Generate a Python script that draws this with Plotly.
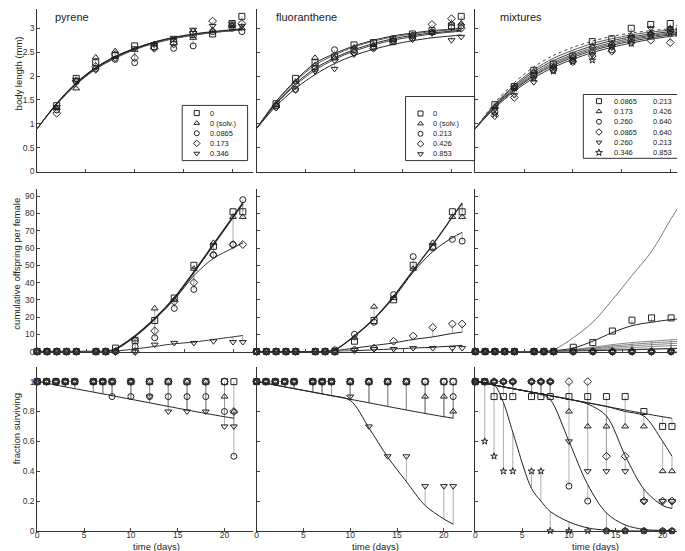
import plotly.graph_objects as go

W, H = 685, 551

# ---------------- data ----------------
T_LEN = [2, 4, 6, 8, 10, 12, 14, 16, 18, 20, 21]            # body-length observation days
T_LEN_MODEL = [0, 2, 4, 6, 8, 10, 12, 14, 16, 18, 20, 21]   # body-length model days
T = [0, 1, 2, 3, 4, 6, 7, 8, 10, 12, 14, 16, 18, 20, 21]     # reproduction / survival days

pyr_labels = ["0", "0 (solv.)", "0.0865", "0.173", "0.346"]
flu_labels = ["0", "0 (solv.)", "0.213", "0.426", "0.853"]
mix_pyr_labels = ["0.0865", "0.173", "0.260", "0.0865", "0.260", "0.346"]
mix_flu_labels = ["0.213", "0.426", "0.640", "0.640", "0.213", "0.853"]

# body length (mm) - pyrene
pyr_len_sq = [1.38, 1.95, 2.28, 2.43, 2.63, 2.62, 2.72, 2.87, 2.88, 3.10, 3.25]
pyr_len_tri = [1.33, 1.74, 2.39, 2.52, 2.55, 2.67, 2.75, 2.80, 2.95, 3.05, 3.00]
pyr_len_circ = [1.29, 1.88, 2.15, 2.35, 2.28, 2.60, 2.58, 2.63, 2.93, 3.00, 2.93]
pyr_len_dia = [1.22, 1.90, 2.20, 2.45, 2.38, 2.58, 2.67, 2.92, 3.15, 3.05, 3.10]
pyr_len_down = [1.35, 1.92, 2.12, 2.36, 2.58, 2.66, 2.80, 2.97, 3.05, 3.10, 3.05]
pyr_len_m_sq = [0.9, 1.43, 1.86, 2.18, 2.41, 2.58, 2.71, 2.80, 2.87, 2.92, 2.96, 2.98]
pyr_len_m_tri = [0.9, 1.42, 1.85, 2.17, 2.40, 2.57, 2.70, 2.79, 2.86, 2.91, 2.95, 2.97]
pyr_len_m_circ = [0.9, 1.40, 1.82, 2.14, 2.37, 2.55, 2.68, 2.78, 2.85, 2.91, 2.95, 2.97]
pyr_len_m_dia = [0.9, 1.41, 1.83, 2.15, 2.38, 2.56, 2.69, 2.79, 2.86, 2.92, 2.96, 2.98]
pyr_len_m_down = [0.9, 1.42, 1.84, 2.16, 2.40, 2.57, 2.71, 2.81, 2.88, 2.93, 2.97, 2.99]

# body length (mm) - fluoranthene
flu_len_sq = [1.42, 1.95, 2.28, 2.40, 2.65, 2.70, 2.72, 2.88, 2.95, 3.05, 3.25]
flu_len_tri = [1.40, 1.88, 2.38, 2.38, 2.60, 2.65, 2.75, 2.85, 2.90, 3.10, 3.10]
flu_len_circ = [1.38, 1.72, 2.15, 2.55, 2.55, 2.60, 2.78, 2.80, 2.92, 3.02, 3.05]
flu_len_dia = [1.35, 1.83, 2.20, 2.35, 2.50, 2.58, 2.74, 2.84, 3.08, 3.20, 3.00]
flu_len_down = [1.33, 1.70, 2.10, 2.15, 2.45, 2.60, 2.72, 2.76, 2.90, 2.75, 2.82]
flu_len_m_sq = [0.9, 1.47, 1.91, 2.27, 2.47, 2.63, 2.75, 2.84, 2.90, 2.95, 2.98, 3.00]
flu_len_m_tri = [0.9, 1.46, 1.89, 2.23, 2.44, 2.61, 2.73, 2.82, 2.88, 2.93, 2.97, 2.99]
flu_len_m_circ = [0.9, 1.43, 1.84, 2.16, 2.38, 2.55, 2.68, 2.78, 2.85, 2.90, 2.94, 2.96]
flu_len_m_dia = [0.9, 1.41, 1.81, 2.12, 2.35, 2.52, 2.65, 2.75, 2.82, 2.88, 2.92, 2.94]
flu_len_m_down = [0.9, 1.37, 1.74, 2.03, 2.26, 2.43, 2.56, 2.66, 2.74, 2.80, 2.84, 2.86]

# body length (mm) - mixtures
mix_len_sq = [1.40, 1.78, 2.12, 2.25, 2.42, 2.72, 2.78, 3.00, 3.08, 3.10, 2.95]
mix_len_tri = [1.35, 1.77, 2.10, 2.20, 2.40, 2.62, 2.68, 2.85, 2.90, 3.00, 3.08]
mix_len_circ = [1.25, 1.75, 2.00, 2.12, 2.32, 2.50, 2.55, 2.78, 2.85, 2.95, 2.90]
mix_len_dia = [1.17, 1.55, 2.05, 2.15, 2.30, 2.42, 2.52, 2.70, 2.75, 2.70, 2.85]
mix_len_down = [1.30, 1.60, 1.87, 2.18, 2.35, 2.45, 2.60, 2.82, 3.00, 2.98, 2.88]
mix_len_star = [1.20, 1.74, 1.95, 2.10, 2.30, 2.33, 2.62, 2.68, 2.88, 2.90, 2.95]
mix_len_m_ctrl = [0.9, 1.44, 1.86, 2.19, 2.43, 2.60, 2.73, 2.83, 2.90, 2.95, 2.99, 3.01]
mix_len_m_sq = [0.9, 1.41, 1.81, 2.13, 2.37, 2.54, 2.68, 2.78, 2.86, 2.92, 2.96, 2.98]
mix_len_m_tri = [0.9, 1.39, 1.78, 2.09, 2.32, 2.49, 2.63, 2.74, 2.82, 2.88, 2.93, 2.95]
mix_len_m_circ = [0.9, 1.37, 1.75, 2.05, 2.28, 2.45, 2.59, 2.70, 2.79, 2.85, 2.90, 2.92]
mix_len_m_dia = [0.9, 1.35, 1.71, 2.00, 2.22, 2.39, 2.53, 2.64, 2.73, 2.80, 2.86, 2.88]
mix_len_m_down = [0.9, 1.36, 1.73, 2.02, 2.25, 2.42, 2.56, 2.67, 2.76, 2.83, 2.88, 2.90]
mix_len_m_star = [0.9, 1.33, 1.68, 1.96, 2.18, 2.35, 2.49, 2.60, 2.69, 2.77, 2.83, 2.85]

# cumulative offspring per female - pyrene
pyr_off_sq = [0, 0, 0, 0, 0, 0, 0, 2, 6.5, 18, 31, 50, 61, 81, 81]
pyr_off_tri = [0, 0, 0, 0, 0, 0, 0, 0, 7, 25, 30, 48, 63, 78, 78]
pyr_off_circ = [0, 0, 0, 0, 0, 0, 0, 0, 3, 8, 25, 36, 56, 62, 88]
pyr_off_dia = [0, 0, 0, 0, 0, 0, 0, 0, 0, 12, 29, 40, 56, 62, 62]
pyr_off_down = [0, 0, 0, 0, 0, 0, 0, 0, 0, 4, 5, 5, 6, 5.5, 5.5]
pyr_off_m_ctrl = [0, 0, 0, 0, 0, 0, 0, 1.5, 9, 19, 31, 46, 62, 78, 86]
pyr_off_m_dia = [0, 0, 0, 0, 0, 0, 0, 1.5, 9, 19, 30, 44, 54, 60, 63]
pyr_off_m_down = [0, 0, 0, 0, 0, 0, 0, 0.3, 1.5, 3, 4.5, 5.5, 7, 8.5, 9.3]

# cumulative offspring per female - fluoranthene
flu_off_sq = [0, 0, 0, 0, 0, 0, 0, 0, 6, 18, 30, 50, 61, 81, 81]
flu_off_tri = [0, 0, 0, 0, 0, 0, 0, 0, 8, 26, 31, 48, 63, 78, 78]
flu_off_circ = [0, 0, 0, 0, 0, 0, 0, 1, 10, 17, 33, 55, 60, 65, 64]
flu_off_dia = [0, 0, 0, 0, 0, 0, 0, 0, 1, 2, 6, 9, 14, 16, 16]
flu_off_down = [0, 0, 0, 0, 0, 0, 0, 0, 1, 1.5, 1.5, 2, 2, 2, 2]
flu_off_m_ctrl = [0, 0, 0, 0, 0, 0, 0, 1, 9, 19, 32, 47, 62, 78, 86]
flu_off_m_circ = [0, 0, 0, 0, 0, 0, 0, 1, 9, 19, 31, 46, 58, 66, 69]
flu_off_m_dia = [0, 0, 0, 0, 0, 0, 0, 0.5, 2, 3.5, 5, 7, 8.5, 10.5, 11.3]
flu_off_m_down = [0, 0, 0, 0, 0, 0, 0, 0.1, 0.5, 1, 1.5, 2, 2.5, 3.2, 3.6]

# cumulative offspring per female - mixtures
mix_off_sq = [0, 0, 0, 0, 0, 0, 0, 0, 2.5, 5.2, 11.9, 18.2, 19.5, 19.5, 19.5]
mix_off_tri = [0, 0, 0, 0, 0, 0, 0, 0, 0, 0, 0, 0, 0, 0, 0]
mix_off_circ = [0, 0, 0, 0, 0, 0, 0, 0, 0, 0, 0, 0, 0, 0, 0]
mix_off_dia = [0, 0, 0, 0, 0, 0, 0, 0, 0, 0, 0, 0, 0, 0, 0]
mix_off_down = [0, 0, 0, 0, 0, 0, 0, 0, 0, 0, 0, 0, 0, 0, 0]
mix_off_star = [0, 0, 0, 0, 0, 0, 0, 0, 0, 0, 0, 0, 0, 0, 0]
mix_off_m_ctrl = [0, 0, 0, 0, 0, 0, 0, 1, 8, 17, 30, 44, 58, 77, 86]
mix_off_m_sq = [0, 0, 0, 0, 0, 0, 0, 0.5, 2, 6, 11, 15, 17, 18.5, 19]
mix_off_m_tri = [0, 0, 0, 0, 0, 0, 0, 0.3, 1.2, 2.5, 4, 5.2, 6, 6.8, 7.2]
mix_off_m_dia = [0, 0, 0, 0, 0, 0, 0, 0.2, 1.0, 2.0, 3.2, 4.2, 5.0, 5.7, 6.0]
mix_off_m_down = [0, 0, 0, 0, 0, 0, 0, 0.15, 0.8, 1.6, 2.5, 3.3, 4.0, 4.6, 4.9]
mix_off_m_circ = [0, 0, 0, 0, 0, 0, 0, 0.1, 0.5, 1.0, 1.7, 2.3, 2.9, 3.4, 3.7]
mix_off_m_star = [0, 0, 0, 0, 0, 0, 0, 0.05, 0.2, 0.5, 0.8, 1.1, 1.4, 1.7, 1.9]

# fraction surviving - pyrene
pyr_sur_sq = [1, 1, 1, 1, 1, 1, 1, 1, 1, 1, 1, 1, 1, 1, 1]
pyr_sur_tri = [1, 1, 1, 1, 1, 1, 1, 1, 1, 1, 1, 1, 1, 0.9, 0.8]
pyr_sur_circ = [1, 1, 1, 1, 1, 1, 1, 0.9, 0.9, 0.9, 0.9, 0.9, 0.9, 0.8, 0.5]
pyr_sur_dia = [1, 1, 1, 1, 1, 1, 1, 1, 1, 1, 1, 1, 1, 1, 0.8]
pyr_sur_down = [1, 1, 1, 1, 1, 1, 1, 1, 1, 0.9, 0.8, 0.8, 0.8, 0.7, 0.7]
sur_m_ctrl = [1, 0.99, 0.977, 0.965, 0.953, 0.93, 0.918, 0.906, 0.882, 0.858, 0.834, 0.81, 0.787, 0.765, 0.755]

# fraction surviving - fluoranthene
flu_sur_sq = [1, 1, 1, 1, 1, 1, 1, 1, 1, 1, 1, 1, 1, 1, 1]
flu_sur_tri = [1, 1, 1, 1, 1, 1, 1, 1, 1, 1, 1, 1, 0.9, 0.9, 0.8]
flu_sur_circ = [1, 1, 1, 1, 1, 1, 1, 1, 1, 1, 1, 1, 1, 1, 0.9]
flu_sur_dia = [1, 1, 1, 1, 1, 1, 1, 1, 1, 1, 1, 1, 1, 1, 1]
flu_sur_down = [1, 1, 1, 1, 1, 1, 1, 1, 0.9, 0.7, 0.5, 0.5, 0.3, 0.3, 0.3]
flu_sur_m_down = [1, 0.99, 0.977, 0.965, 0.953, 0.93, 0.918, 0.906, 0.875, 0.69, 0.495, 0.33, 0.17, 0.08, 0.045]

# fraction surviving - mixtures
mix_sur_sq = [1, 1, 0.9, 0.9, 0.9, 0.9, 0.9, 0.9, 0.9, 0.9, 0.9, 0.9, 0.8, 0.7, 0.7]
mix_sur_tri = [1, 1, 1, 1, 1, 1, 1, 1, 0.8, 0.7, 0.7, 0.7, 0.7, 0.4, 0.4]
mix_sur_circ = [1, 1, 1, 1, 1, 1, 1, 1, 0.3, 0.2, 0, 0, 0, 0, 0]
mix_sur_dia = [1, 1, 1, 1, 1, 1, 1, 1, 1, 1, 0.5, 0.5, 0.2, 0.2, 0.2]
mix_sur_down = [1, 1, 1, 1, 1, 1, 1, 1, 0.6, 0.4, 0.4, 0.4, 0.2, 0.2, 0.2]
mix_sur_star = [1, 0.6, 0.5, 0.4, 0.4, 0.4, 0.4, 0, 0, 0, 0, 0, 0, 0, 0]
mix_sur_m_tri = [1, 0.99, 0.977, 0.965, 0.953, 0.93, 0.918, 0.906, 0.882, 0.858, 0.834, 0.80, 0.77, 0.60, 0.50]
mix_sur_m_circ = [1, 0.99, 0.977, 0.965, 0.953, 0.93, 0.915, 0.88, 0.60, 0.31, 0.12, 0.04, 0.01, 0.003, 0.001]
mix_sur_m_dia = [1, 0.99, 0.977, 0.965, 0.953, 0.93, 0.918, 0.906, 0.882, 0.85, 0.77, 0.505, 0.28, 0.17, 0.15]
mix_sur_m_star = [1, 0.995, 0.98, 0.86, 0.66, 0.284, 0.2, 0.13, 0.06, 0.02, 0.005, 0, 0, 0, 0]

# ---------------- styling / layout constants ----------------
SYM = {"sq": "square-open", "tri": "triangle-up-open", "circ": "circle-open",
       "dia": "diamond-open", "down": "triangle-down-open", "star": "star-open"}
SIZE = {"star": 5}
INK = "#222222"
STEM = "#9a9a9a"
FONT = "Liberation Sans, Arial, sans-serif"

COL_X0 = [27.3, 247.3, 466.7]
COL_W = 216.0
ROW_Y = [(0.7, 165.0), (183.0, 346.7), (362.0, 527.7)]
XR = [22.1, 22.0, 23.0]
YR = [3.41, 94.0, 1.1]
YTICKS = [[0, 0.5, 1, 1.5, 2, 2.5, 3], list(range(0, 100, 10)), [0, 0.2, 0.4, 0.6, 0.8, 1]]

fig = go.Figure()


def axid(k):
    return ("x" if k == 1 else f"x{k}"), ("y" if k == 1 else f"y{k}")


def panel(k, tm, obs_t, obs, models, styles):
    xa, ya = axid(k)
    sx, sy = [], []
    for key, vals in obs.items():
        mt = dict(zip(tm, models[key]))
        for t, v in zip(obs_t, vals):
            if t in mt and abs(mt[t] - v) > 1e-9:
                sx += [t, t, None]
                sy += [v, mt[t], None]
    fig.add_trace(go.Scatter(x=sx, y=sy, mode="lines", line=dict(color=STEM, width=0.8),
                             xaxis=xa, yaxis=ya, hoverinfo="skip", showlegend=False))
    drawn = set()
    for key, m in models.items():
        if id(m) in drawn:
            continue
        drawn.add(id(m))
        st = styles.get(key, {})
        fig.add_trace(go.Scatter(x=tm, y=m, mode="lines",
                                 line=dict(color=st.get("color", INK), width=st.get("width", 1),
                                           dash=st.get("dash", "solid"), shape="spline", smoothing=0.9),
                                 xaxis=xa, yaxis=ya, hoverinfo="skip", showlegend=False))
    for key, vals in obs.items():
        fig.add_trace(go.Scatter(x=obs_t, y=vals, mode="markers", cliponaxis=False,
                                 marker=dict(symbol=SYM[key], size=SIZE.get(key, 6),
                                             color=INK, line=dict(color=INK, width=1)),
                                 xaxis=xa, yaxis=ya, showlegend=False))


# --- top row: body length
panel(1, T_LEN_MODEL, T_LEN,
      {"sq": pyr_len_sq, "tri": pyr_len_tri, "circ": pyr_len_circ, "dia": pyr_len_dia, "down": pyr_len_down},
      {"sq": pyr_len_m_sq, "tri": pyr_len_m_tri, "circ": pyr_len_m_circ, "dia": pyr_len_m_dia, "down": pyr_len_m_down},
      {"circ": {"color": "#666"}, "dia": {"color": "#555"}})
panel(2, T_LEN_MODEL, T_LEN,
      {"sq": flu_len_sq, "tri": flu_len_tri, "circ": flu_len_circ, "dia": flu_len_dia, "down": flu_len_down},
      {"sq": flu_len_m_sq, "tri": flu_len_m_tri, "circ": flu_len_m_circ, "dia": flu_len_m_dia, "down": flu_len_m_down},
      {"tri": {"color": "#555"}, "dia": {"color": "#444"}})
panel(3, T_LEN_MODEL, T_LEN,
      {"sq": mix_len_sq, "tri": mix_len_tri, "circ": mix_len_circ, "dia": mix_len_dia, "down": mix_len_down, "star": mix_len_star},
      {"ctrl": mix_len_m_ctrl, "sq": mix_len_m_sq, "tri": mix_len_m_tri, "circ": mix_len_m_circ,
       "dia": mix_len_m_dia, "down": mix_len_m_down, "star": mix_len_m_star},
      {"ctrl": {"dash": "dot", "color": "#444"}, "sq": {"color": "#555"}, "tri": {"color": "#333"},
       "circ": {"color": "#555"}, "dia": {"color": "#333"}, "down": {"color": "#555"}, "star": {"color": "#333"}})

# --- middle row: cumulative offspring
panel(4, T, T,
      {"sq": pyr_off_sq, "tri": pyr_off_tri, "circ": pyr_off_circ, "dia": pyr_off_dia, "down": pyr_off_down},
      {"sq": pyr_off_m_ctrl, "tri": pyr_off_m_ctrl, "circ": pyr_off_m_ctrl, "dia": pyr_off_m_dia, "down": pyr_off_m_down},
      {"sq": {"width": 1.8}, "dia": {"color": "#333"}, "down": {"color": "#333"}})
panel(5, T, T,
      {"sq": flu_off_sq, "tri": flu_off_tri, "circ": flu_off_circ, "dia": flu_off_dia, "down": flu_off_down},
      {"sq": flu_off_m_ctrl, "tri": flu_off_m_ctrl, "circ": flu_off_m_circ, "dia": flu_off_m_dia, "down": flu_off_m_down},
      {"sq": {"width": 1.3}})
panel(6, T, T,
      {"sq": mix_off_sq, "tri": mix_off_tri, "circ": mix_off_circ, "dia": mix_off_dia, "down": mix_off_down, "star": mix_off_star},
      {"ctrl": mix_off_m_ctrl, "sq": mix_off_m_sq, "tri": mix_off_m_tri, "dia": mix_off_m_dia,
       "down": mix_off_m_down, "circ": mix_off_m_circ, "star": mix_off_m_star},
      {"ctrl": {"color": "#555", "width": 0.8}, "tri": {"color": "#666", "width": 0.8},
       "dia": {"color": "#666", "width": 0.8}, "down": {"color": "#666", "width": 0.8},
       "circ": {"color": "#666", "width": 0.8}, "star": {"color": "#333", "width": 1.2}})

# --- bottom row: survival
panel(7, T, T,
      {"sq": pyr_sur_sq, "tri": pyr_sur_tri, "circ": pyr_sur_circ, "dia": pyr_sur_dia, "down": pyr_sur_down},
      {"sq": sur_m_ctrl, "tri": sur_m_ctrl, "circ": sur_m_ctrl, "dia": sur_m_ctrl, "down": sur_m_ctrl}, {})
panel(8, T, T,
      {"sq": flu_sur_sq, "tri": flu_sur_tri, "circ": flu_sur_circ, "dia": flu_sur_dia, "down": flu_sur_down},
      {"sq": sur_m_ctrl, "tri": sur_m_ctrl, "circ": sur_m_ctrl, "dia": sur_m_ctrl, "down": flu_sur_m_down}, {})
panel(9, T, T,
      {"sq": mix_sur_sq, "tri": mix_sur_tri, "circ": mix_sur_circ, "dia": mix_sur_dia, "down": mix_sur_down, "star": mix_sur_star},
      {"sq": sur_m_ctrl, "tri": mix_sur_m_tri, "circ": mix_sur_m_circ, "dia": mix_sur_m_dia,
       "down": mix_sur_m_dia, "star": mix_sur_m_star}, {})

# ---------------- axes ----------------
layout = dict(width=W, height=H, margin=dict(l=0, r=0, t=0, b=0),
              paper_bgcolor="white", plot_bgcolor="rgba(0,0,0,0)",
              font=dict(family=FONT, size=8.5, color="#333"), showlegend=False)

for r in range(3):
    for c in range(3):
        k = r * 3 + c + 1
        xa, ya = axid(k)
        xs = "xaxis" if k == 1 else f"xaxis{k}"
        ys = "yaxis" if k == 1 else f"yaxis{k}"
        layout[xs] = dict(domain=[COL_X0[c] / W, (COL_X0[c] + COL_W) / W], range=[0, XR[r]], anchor=ya,
                          tickvals=[0, 5, 10, 15, 20], showticklabels=(r == 2), ticks="inside", ticklen=3,
                          tickcolor="#444", showline=True, linecolor="#333", linewidth=1,
                          showgrid=False, zeroline=False, tickfont=dict(size=8.5), ticklabelstandoff=-4)
        layout[ys] = dict(domain=[1 - ROW_Y[r][1] / H, 1 - ROW_Y[r][0] / H], range=[0, YR[r]], anchor=xa,
                          tickvals=YTICKS[r], showticklabels=(c == 0), ticks="inside", ticklen=3,
                          tickcolor="#444", showline=True, linecolor="#333", linewidth=1,
                          showgrid=False, zeroline=False, tickfont=dict(size=8.5))

# overlay axis in pixel units for titles and legends
layout["xaxis10"] = dict(domain=[0, 1], range=[0, W], visible=False, anchor="y10", fixedrange=True)
layout["yaxis10"] = dict(domain=[0, 1], range=[H, 0], visible=False, anchor="x10", fixedrange=True)

annotations = []
shapes = []


def text(x, y, s, size, anchor="center", angle=0):
    annotations.append(dict(x=x, y=y, xref="x10", yref="y10", text=s, showarrow=False,
                            xanchor=anchor, yanchor="middle", textangle=angle, borderpad=0,
                            font=dict(family=FONT, size=size, color="#222")))


# panel titles
text(44, 9, "pyrene", 11, "left")
text(266, 9, "fluoranthene", 11, "left")
text(490, 9, "mixtures", 11, "left")
# axis titles
text(8, 66, "body length (mm)", 9.5, angle=-90)
text(7, 258, "cumulative offspring per female", 9.5, angle=-90)
text(6, 424, "fraction surviving", 9.5, angle=-90)
for cx in (147, 367, 587):
    text(cx, 543, "time (days)", 9.5)


def legend(box, sym_x, txt_x, y0, dy, keys, labels, txt2_x=None, labels2=None):
    shapes.append(dict(type="rect", xref="x10", yref="y10", x0=box[0], y0=box[1], x1=box[2], y1=box[3],
                       line=dict(color="#333", width=1), fillcolor="rgba(0,0,0,0)"))
    ys = [y0 + i * dy for i in range(len(keys))]
    fig.add_trace(go.Scatter(x=[sym_x] * len(keys), y=ys, mode="markers", xaxis="x10", yaxis="y10",
                             marker=dict(symbol=[SYM[k] for k in keys], size=5, color=INK,
                                         line=dict(color=INK, width=1)),
                             hoverinfo="skip", showlegend=False))
    for i, lab in enumerate(labels):
        text(txt_x, ys[i], lab, 7.5, "left")
        if labels2:
            text(txt2_x, ys[i], labels2[i], 7.5, "left")


legend((172.7, 98.3, 238.3, 154.0), 187.3, 199.3, 106.0, 10.2,
       ["sq", "tri", "circ", "dia", "down"], pyr_labels)
legend((396.7, 89.3, 466.0, 154.0), 411.7, 423.3, 106.5, 10.2,
       ["sq", "tri", "circ", "dia", "down"], flu_labels)
legend((575.0, 87.3, 679.3, 151.7), 590.7, 604.3, 94.0, 10.4,
       ["sq", "tri", "circ", "dia", "down", "star"], mix_pyr_labels, 644.3, mix_flu_labels)

layout["annotations"] = annotations
layout["shapes"] = shapes
fig.update_layout(**layout)
fig.write_html("out.html")
